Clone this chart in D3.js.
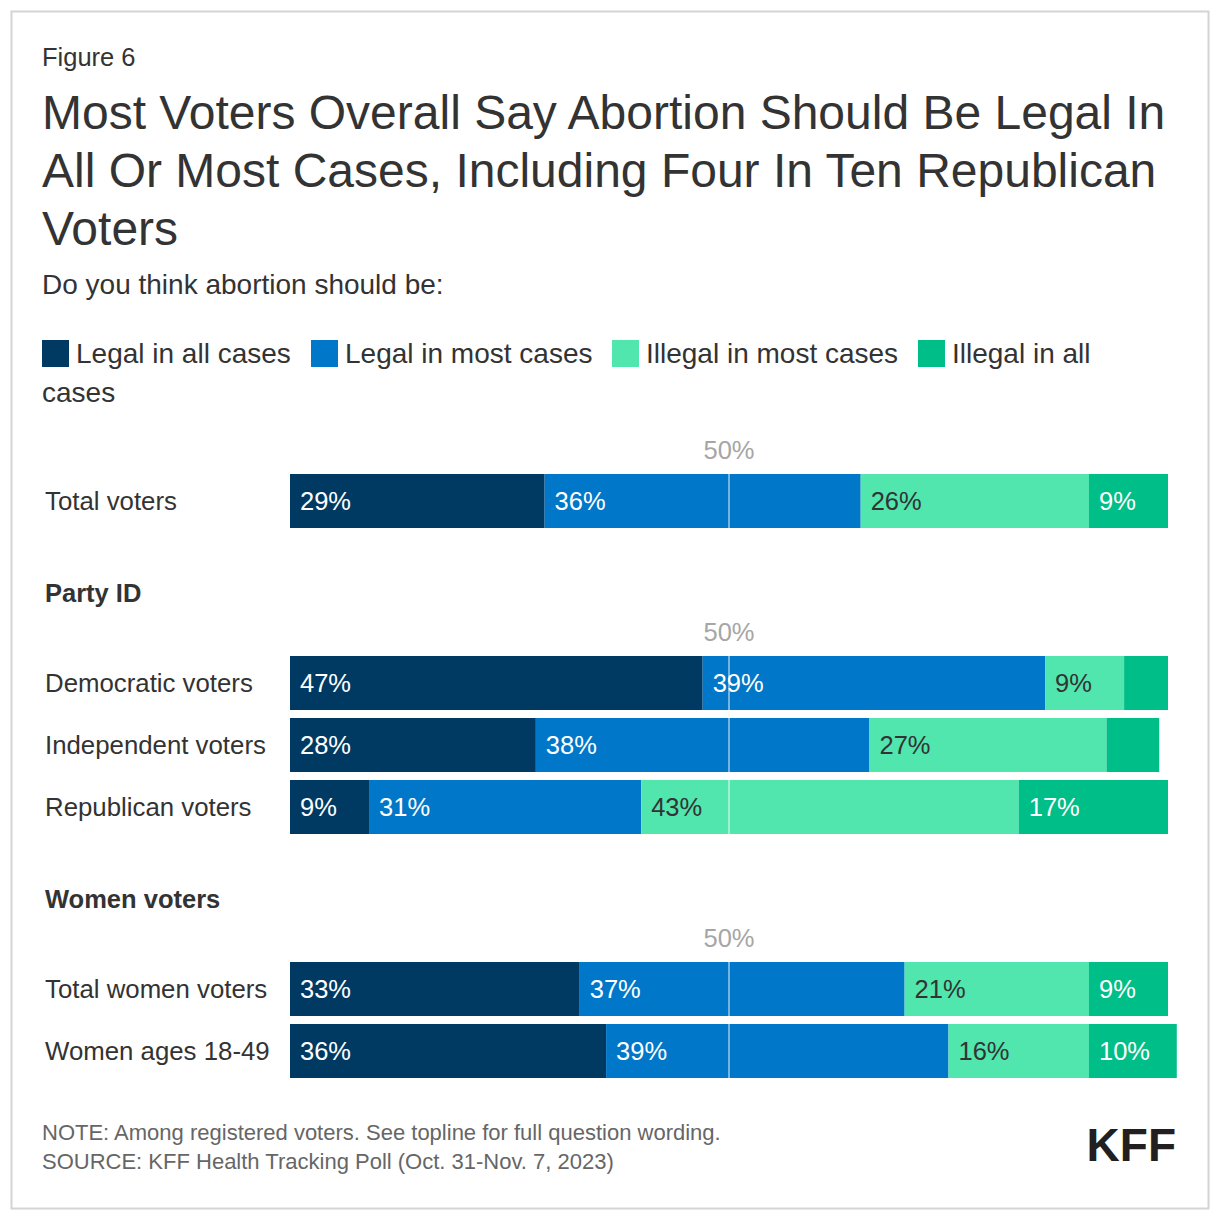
<!DOCTYPE html>
<html>
<head>
<meta charset="utf-8">
<script src="https://cdn.jsdelivr.net/npm/d3@7"></script>
<style>
  html, body { margin: 0; padding: 0; background: #fff; }
  svg { display: block; font-family: "Liberation Sans", Arial, Helvetica, sans-serif; }
</style>
</head>
<body>
<svg id="chart" width="1220" height="1220"></svg>
<script>
// ---- Data ----
const seriesNames = ["Legal in all cases", "Legal in most cases", "Illegal in most cases", "Illegal in all cases"];
const seriesColors = ["#003a63", "#0077c8", "#50e6ae", "#00be87"];
const labelColors = ["#ffffff", "#ffffff", "#333333", "#ffffff"];

const categories = ["Total voters", "Democratic voters", "Independent voters", "Republican voters", "Total women voters", "Women ages 18-49"];
const legalAll   = [29, 47, 28,  9, 33, 36];
const legalMost  = [36, 39, 38, 31, 37, 39];
const illegalMost= [26,  9, 27, 43, 21, 16];
const illegalAll = [ 9,  5,  6, 17,  9, 10];
const seriesValues = [legalAll, legalMost, illegalMost, illegalAll];

const groupHeaders = ["Party ID", "Women voters"];
const refValue = 50;
const refLabel = "50%";

// ---- Layout ----
const svg = d3.select("#chart");

svg.append("rect").attr("x", 11.5).attr("y", 11.5).attr("width", 1197).attr("height", 1197)
  .attr("fill", "#fff").attr("stroke", "#d4d4d4").attr("stroke-width", 2);

svg.append("text").attr("x", 42).attr("y", 66).attr("font-size", 25.5).attr("fill", "#333").text("Figure 6");

const titleLines = ["Most Voters Overall Say Abortion Should Be Legal In", "All Or Most Cases, Including Four In Ten Republican", "Voters"];
svg.append("g").selectAll("text").data(titleLines).join("text")
  .attr("x", 42).attr("y", (d, i) => 129 + i * 58)
  .attr("font-size", 48).attr("fill", "#333").text(d => d);

svg.append("text").attr("x", 42).attr("y", 294).attr("font-size", 28).attr("fill", "#333")
  .text("Do you think abortion should be:");

// Legend
const legend = svg.append("g");
const legendItems = [
  {x: 42, y: 340, i: 0, text: "Legal in all cases"},
  {x: 311, y: 340, i: 1, text: "Legal in most cases"},
  {x: 612, y: 340, i: 2, text: "Illegal in most cases"},
  {x: 918, y: 340, i: 3, text: "Illegal in all"}
];
legendItems.forEach(it => {
  legend.append("rect").attr("x", it.x).attr("y", it.y).attr("width", 27).attr("height", 27).attr("fill", seriesColors[it.i]);
  legend.append("text").attr("x", it.x + 34).attr("y", it.y + 23).attr("font-size", 28).attr("fill", "#333").text(it.text);
});
legend.append("text").attr("x", 42).attr("y", 402).attr("font-size", 28).attr("fill", "#333").text("cases");

// Scales
const x = d3.scaleLinear().domain([0, 100]).range([290, 1168]);
const barH = 54;
const rowTop = [474, 656, 718, 780, 962, 1024];
const headerY = [602, 908];

const stackData = categories.map((c, r) => {
  let cum = 0;
  return seriesValues.map((vals, s) => {
    const seg = {cat: c, row: r, s, v: vals[r], x0: cum, x1: cum + vals[r]};
    cum += vals[r];
    return seg;
  });
}).flat();

const chart = svg.append("g");

// group headers
chart.selectAll("text.hdr").data(groupHeaders).join("text").attr("class", "hdr")
  .attr("x", 45).attr("y", (d, i) => headerY[i]).attr("font-size", 25.5).attr("font-weight", "bold").attr("fill", "#333").text(d => d);

// category labels
chart.selectAll("text.cat").data(categories).join("text").attr("class", "cat")
  .attr("x", 45).attr("y", (d, i) => rowTop[i] + barH / 2 + 9)
  .attr("font-size", 25.8).attr("fill", "#333").text(d => d);

// bars
chart.selectAll("rect.seg").data(stackData).join("rect").attr("class", "seg")
  .attr("x", d => x(d.x0)).attr("width", d => x(d.x1) - x(d.x0))
  .attr("y", d => rowTop[d.row]).attr("height", barH)
  .attr("fill", d => seriesColors[d.s]);

// reference lines (50%)
chart.selectAll("line.ref").data(categories).join("line").attr("class", "ref")
  .attr("x1", x(refValue)).attr("x2", x(refValue))
  .attr("y1", (d, i) => rowTop[i]).attr("y2", (d, i) => rowTop[i] + barH)
  .attr("stroke", "#ffffff").attr("stroke-opacity", 0.45).attr("stroke-width", 2);

// 50% labels above first row of each group
const refRows = [0, 1, 4];
chart.selectAll("text.refl").data(refRows).join("text").attr("class", "refl")
  .attr("x", x(refValue)).attr("y", r => rowTop[r] - 15)
  .attr("text-anchor", "middle").attr("font-size", 25.5).attr("fill", "#a6a6a6").text(refLabel);

// segment labels
chart.selectAll("text.val").data(stackData.filter(d => d.v >= 7)).join("text").attr("class", "val")
  .attr("x", d => x(d.x0) + 10).attr("y", d => rowTop[d.row] + barH / 2 + 9)
  .attr("font-size", 25.5).attr("fill", d => labelColors[d.s]).text(d => d.v + "%");

// footer
svg.append("text").attr("x", 42).attr("y", 1140).attr("font-size", 22).attr("fill", "#666")
  .text("NOTE: Among registered voters. See topline for full question wording.");
svg.append("text").attr("x", 42).attr("y", 1169).attr("font-size", 22).attr("fill", "#666")
  .text("SOURCE: KFF Health Tracking Poll (Oct. 31-Nov. 7, 2023)");

svg.append("text").attr("x", 1176).attr("y", 1161).attr("text-anchor", "end")
  .attr("font-size", 46).attr("font-weight", "bold").attr("fill", "#231f20").attr("letter-spacing", 0).text("KFF");
</script>
</body>
</html>
